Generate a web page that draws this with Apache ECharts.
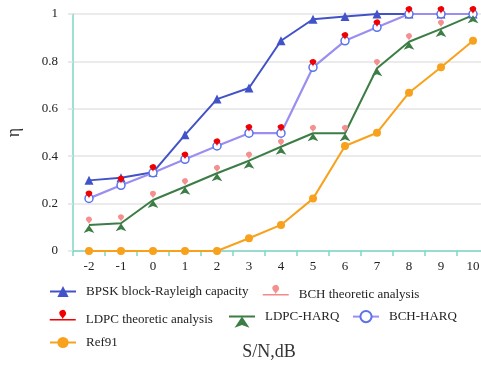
<!DOCTYPE html>
<html>
<head>
<meta charset="utf-8">
<script src="https://cdn.jsdelivr.net/npm/echarts@6/dist/echarts.min.js"></script>
<style>
  html, body { margin: 0; padding: 0; background: #fff; }
  #chart { width: 481px; height: 366px; }
</style>
</head>
<body>
<div id="chart"></div>
<script>
// S/N in dB
const snr = ['-2', '-1', '0', '1', '2', '3', '4', '5', '6', '7', '8', '9', '10'];
const yTicks = [0, 0.2, 0.4, 0.6, 0.8, 1];

// throughput efficiency per scheme
const bpskCapacity = [0.298, 0.309, 0.332, 0.49, 0.641, 0.688, 0.887, 0.978, 0.989, 1.0, 1.0, 1.0, 1.0];
const bchTheory    = [0.112, 0.122, 0.221, 0.274, 0.33, 0.386, 0.441, 0.499, 0.499, 0.777, 0.886, 0.943, 1.0];
const ldpcTheory   = [0.222, 0.284, 0.333, 0.386, 0.442, 0.502, 0.502, 0.777, 0.89, 0.944, 1.0, 1.0, 1.0];
const ldpcHarq     = [0.11, 0.117, 0.215, 0.271, 0.328, 0.381, 0.44, 0.497, 0.497, 0.771, 0.883, 0.937, 0.995];
const bchHarq      = [0.222, 0.277, 0.33, 0.387, 0.443, 0.497, 0.497, 0.775, 0.887, 0.944, 1.0, 1.0, 1.0];
const ref91        = [0, 0, 0, 0, 0, 0.054, 0.11, 0.221, 0.443, 0.499, 0.668, 0.775, 0.887];

const serif = 'Liberation Serif';
const chart = echarts.init(document.getElementById('chart'));

// markers sit on the point in the plot; the series-level offset only shifts the legend glyph
const centred = arr => arr.map(v => ({ value: v, symbolOffset: [0, 0] }));

function legendAt(name, left, top, extra) {
  return Object.assign({
    data: [name],
    left: left, top: top,
    padding: 0,
    itemWidth: 26, itemHeight: 14,
    textStyle: { fontFamily: serif, fontSize: 13, color: '#222', padding: [0, 0, 0, 5] },
    selectedMode: false
  }, extra || {});
}

chart.setOption({
  animation: false,
  backgroundColor: '#fff',
  grid: { left: 73, top: 14, width: 416, height: 237, containLabel: false, outerBoundsMode: 'none' },
  xAxis: {
    type: 'category',
    data: snr,
    boundaryGap: true,
    name: 'S/N,dB',
    nameLocation: 'middle',
    nameGap: 92,
    nameTextStyle: { fontFamily: serif, fontSize: 18, color: '#333', padding: [0, 24, 0, 0] },
    axisLine: { lineStyle: { color: '#7fd6c6', width: 1.5 } },
    axisTick: { show: true, length: 5, lineStyle: { color: '#7fd6c6', width: 1.5 } },
    axisLabel: { fontFamily: serif, fontSize: 13, color: '#222', margin: 9 },
    splitLine: { show: false }
  },
  yAxis: {
    type: 'value',
    min: 0, max: 1, interval: 0.2,
    name: 'η',
    nameLocation: 'middle',
    nameGap: 50,
    nameTextStyle: { fontFamily: serif, fontSize: 18, color: '#333' },
    axisLine: { show: true, lineStyle: { color: '#7fd6c6', width: 1.5 } },
    axisTick: { show: true, length: 5, lineStyle: { color: '#e2e2e2', width: 1.5 } },
    axisLabel: {
      fontFamily: serif, fontSize: 13, color: '#222', margin: 15,
      formatter: v => (yTicks.indexOf(Math.round(v * 10) / 10) >= 0 ? String(Math.round(v * 10) / 10) : '')
    },
    splitLine: { lineStyle: { color: '#e4e4e4', width: 1.5 } }
  },
  legend: [
    legendAt('BPSK block-Rayleigh capacity', 49, 285),
    legendAt('BCH theoretic analysis', 262, 285, { data: [{ name: 'BCH theoretic analysis', lineStyle: { opacity: 1, width: 1.5, color: '#f48a8a' } }] }),
    legendAt('LDPC theoretic analysis', 49, 310, { data: [{ name: 'LDPC theoretic analysis', lineStyle: { opacity: 1, width: 1.5, color: '#f00000' } }] }),
    legendAt('LDPC-HARQ', 228, 310),
    legendAt('BCH-HARQ', 352, 310),
    legendAt('Ref91', 49, 336)
  ],
  series: [
    {
      name: 'BPSK block-Rayleigh capacity', type: 'line', data: bpskCapacity,
      symbol: 'triangle', symbolSize: 9,
      lineStyle: { color: '#4252c8', width: 2 },
      itemStyle: { color: '#4252c8' }
    },
    {
      name: 'BCH-HARQ', type: 'line', data: bchHarq,
      symbol: 'circle', symbolSize: 8,
      lineStyle: { color: '#9a8ef0', width: 2.2 },
      itemStyle: { color: '#ffffff', borderColor: '#5a72ea', borderWidth: 1.5 }
    },
    {
      name: 'LDPC-HARQ', type: 'line', data: centred(ldpcHarq),
      symbol: 'arrow', symbolSize: [8, 8], symbolOffset: [0, '55%'],
      lineStyle: { color: '#3b7d45', width: 2 },
      itemStyle: { color: '#3b7d45' }
    },
    {
      name: 'Ref91', type: 'line', data: ref91,
      symbol: 'circle', symbolSize: 8,
      lineStyle: { color: '#f8a11c', width: 2 },
      itemStyle: { color: '#f8a11c' }
    },
    {
      name: 'BCH theoretic analysis', type: 'line', data: centred(bchTheory),
      symbol: 'pin', symbolSize: [10, 9], symbolOffset: [0, '-50%'],
      lineStyle: { opacity: 0, width: 0 },
      itemStyle: { color: '#f59090' }
    },
    {
      name: 'LDPC theoretic analysis', type: 'line', data: centred(ldpcTheory),
      symbol: 'pin', symbolSize: [11, 9], symbolOffset: [0, '-50%'],
      lineStyle: { opacity: 0, width: 0 },
      itemStyle: { color: '#f00000' }
    }
  ]
});
</script>
</body>
</html>
